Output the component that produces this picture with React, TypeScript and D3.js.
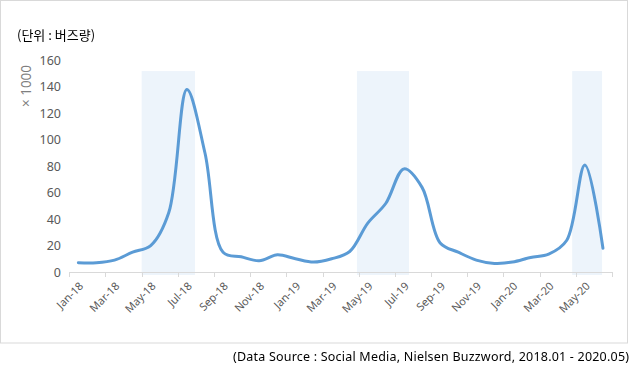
import { useEffect, useRef } from 'react';
import * as d3 from 'd3';

const months = [
  'Jan-18', 'Feb-18', 'Mar-18', 'Apr-18', 'May-18', 'Jun-18', 'Jul-18', 'Aug-18', 'Sep-18', 'Oct-18', 'Nov-18', 'Dec-18',
  'Jan-19', 'Feb-19', 'Mar-19', 'Apr-19', 'May-19', 'Jun-19', 'Jul-19', 'Aug-19', 'Sep-19', 'Oct-19', 'Nov-19', 'Dec-19',
  'Jan-20', 'Feb-20', 'Mar-20', 'Apr-20', 'May-20', 'Jun-20',
];

// buzz volume, x1000
const buzz = [
  7, 7, 9, 15, 20, 45, 138, 90, 15, 11.5, 8.5, 13,
  10, 7.5, 10, 15.5, 37, 52, 78, 64, 22, 15, 9, 6.5,
  7.5, 11, 13.5, 24, 81, 18,
];

const yTicks = [0, 20, 40, 60, 80, 100, 120, 140, 160];

// highlighted periods, in month positions from the start of Jan-18
const highlightStart = [4.0, 15.9, 27.8];
const highlightEnd = [6.95, 18.78, 29.45];

function App() {
  const svgRef = useRef(null);

  useEffect(() => {
    if (!svgRef.current) return;
    const svg = d3.select(svgRef.current);
    svg.selectAll('*').remove();

    const x = d3.scaleBand().domain(months).range([69.3, 612]).padding(0);
    const y = d3.scaleLinear().domain([0, 160]).range([272, 60.5]);
    const bw = x.bandwidth();
    const xPos = (m) => 69.3 + m * bw;

    // outer frame
    svg.append('rect')
      .attr('x', 0.5).attr('y', 0.5)
      .attr('width', 627).attr('height', 342.5)
      .attr('fill', '#fff')
      .attr('stroke', '#d9d9d9');

    // shaded periods
    highlightStart.forEach((s, i) => {
      svg.append('rect')
        .attr('x', xPos(s))
        .attr('y', y(152))
        .attr('width', xPos(highlightEnd[i]) - xPos(s))
        .attr('height', y(0) + 3 - y(152))
        .attr('fill', '#edf4fb');
    });

    // y labels
    svg.append('g')
      .selectAll('text')
      .data(yTicks)
      .join('text')
      .attr('x', 61)
      .attr('y', d => y(d))
      .attr('dy', '0.36em')
      .attr('text-anchor', 'end')
      .attr('fill', '#595959')
      .attr('font-size', 12.5)
      .attr('font-family', '"Noto Sans", sans-serif')
      .text(d => d);

    svg.append('text')
      .attr('transform', 'translate(31,86) rotate(-90)')
      .attr('text-anchor', 'middle')
      .attr('fill', '#7f7f7f')
      .attr('font-size', 13.5)
      .attr('font-family', '"Noto Sans", sans-serif')
      .text('× 1000');

    // x axis line and ticks every two months
    const xAxis = svg.append('g').attr('stroke', '#d9d9d9').attr('stroke-width', 1);
    xAxis.append('line')
      .attr('x1', 69.3).attr('x2', 612)
      .attr('y1', y(0) + 0.5).attr('y2', y(0) + 0.5);
    const tickIdx = d3.range(0, months.length + 1, 2);
    xAxis.selectAll('.tk')
      .data(tickIdx)
      .join('line')
      .attr('class', 'tk')
      .attr('x1', d => Math.round(xPos(d)) + 0.5)
      .attr('x2', d => Math.round(xPos(d)) + 0.5)
      .attr('y1', y(0))
      .attr('y2', y(0) + 5);

    svg.append('g')
      .selectAll('text')
      .data(months.filter((m, i) => i % 2 === 0))
      .join('text')
      .attr('transform', d => `translate(${x(d) + bw / 2 + 3},${y(0) + 12}) rotate(-45)`)
      .attr('text-anchor', 'end')
      .attr('dy', '0.35em')
      .attr('fill', '#595959')
      .attr('font-size', 11)
      .attr('font-family', '"Noto Sans", sans-serif')
      .text(d => d);

    // buzz line
    const line = d3.line()
      .x((d, i) => x(months[i]) + bw / 2)
      .y(d => y(d))
      .curve(d3.curveCatmullRom.alpha(0.5));
    svg.append('path')
      .datum(buzz)
      .attr('d', line)
      .attr('fill', 'none')
      .attr('stroke', '#5b9bd5')
      .attr('stroke-width', 3)
      .attr('stroke-linecap', 'round')
      .attr('stroke-linejoin', 'round');

    // unit label and source
    svg.append('text')
      .attr('x', 17).attr('y', 40)
      .attr('fill', '#000')
      .attr('font-size', 13)
      .attr('font-family', '"Noto Sans CJK KR", sans-serif')
      .text('(단위 : 버즈량)');

    svg.append('text')
      .attr('x', 629).attr('y', 361)
      .attr('text-anchor', 'end')
      .attr('fill', '#000')
      .attr('font-size', 12.5)
      .attr('font-family', '"Noto Sans", sans-serif')
      .attr('textLength', 396)
      .attr('lengthAdjust', 'spacing')
      .text('(Data Source : Social Media, Nielsen Buzzword, 2018.01 - 2020.05)');
  }, []);

  return (
    <div style={{ position: 'fixed', left: 0, top: 0 }}>
      <svg ref={svgRef} width={630} height={372} style={{ display: 'block' }}></svg>
    </div>
  );
}

export default App;
